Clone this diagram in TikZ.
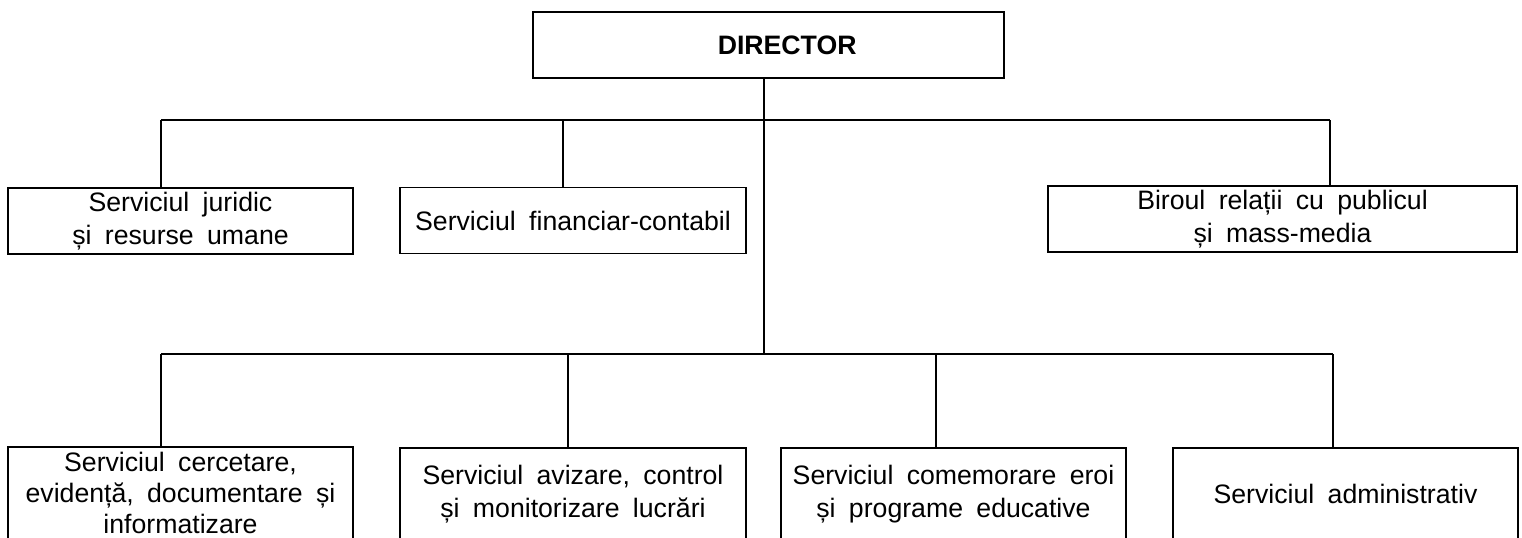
\documentclass[tikz,border=0pt]{standalone}
\usepackage{fontspec}
\setmainfont[WordSpace=1.8]{Liberation Sans}
\begin{document}
\begin{tikzpicture}[x=0.75pt,y=-0.75pt,
		unit/.style={draw,line width=1.4pt,align=center,inner sep=0pt,
			font=\fontsize{20}{25}\selectfont},
		link/.style={line width=1.1pt}]
		\useasboundingbox (0,0) rectangle (1522,537);
		
		\node[unit,minimum width=353.25pt,minimum height=49.5pt,
			font=\fontsize{20}{25}\selectfont\bfseries] (dir) at (768.5,45) {\hspace*{28pt}DIRECTOR};
		
		% first row
		\node[unit,minimum width=258.75pt,minimum height=49.5pt] (juridic) at (180.5,221)
			{Serviciul juridic\\și resurse umane};
		\node[unit,minimum width=259.5pt,minimum height=49.5pt] (financiar) at (573,220.5)
			{Serviciul financiar-contabil};
		\node[unit,minimum width=351.75pt,minimum height=49.5pt] (birou) at (1282.5,219)
			{Biroul relații cu publicul\\și mass-media};
		
		% second row
		\node[unit,minimum width=258.75pt,minimum height=69pt,
			font=\fontsize{20}{23.5}\selectfont] (cercetare) at (180.5,493)
			{Serviciul cercetare,\\evidență, documentare și\\informatizare};
		\node[unit,minimum width=259.5pt,minimum height=69pt] (avizare) at (573,494)
			{Serviciul avizare, control\\și monitorizare lucrări};
		\node[unit,minimum width=258.75pt,minimum height=69pt] (comemorare) at (953.5,494)
			{Serviciul comemorare eroi\\și programe educative};
		\node[unit,minimum width=258.75pt,minimum height=69pt] (administrativ) at (1345.5,494)
			{Serviciul administrativ};
		
		\coordinate (t1) at (161,120);
		\coordinate (t2) at (563,120);
		\coordinate (t3) at (1330,120);
		\coordinate (s1) at (161,354);
		\coordinate (s2) at (568,354);
		\coordinate (s3) at (936,354);
		\coordinate (s4) at (1333,354);
		\coordinate (trunk) at (764,354);
		
		\draw[link] (trunk |- dir.south) -- (trunk);
		
		\draw[link] (t1) -- (t3);
		\draw[link] (t1) -- (t1 |- juridic.north);
		\draw[link] (t2) -- (t2 |- financiar.north);
		\draw[link] (t3) -- (t3 |- birou.north);
		
		\draw[link] (s1) -- (s4);
		\draw[link] (s1) -- (s1 |- cercetare.north);
		\draw[link] (s2) -- (s2 |- avizare.north);
		\draw[link] (s3) -- (s3 |- comemorare.north);
		\draw[link] (s4) -- (s4 |- administrativ.north);
		
	\end{tikzpicture}
\end{document}
